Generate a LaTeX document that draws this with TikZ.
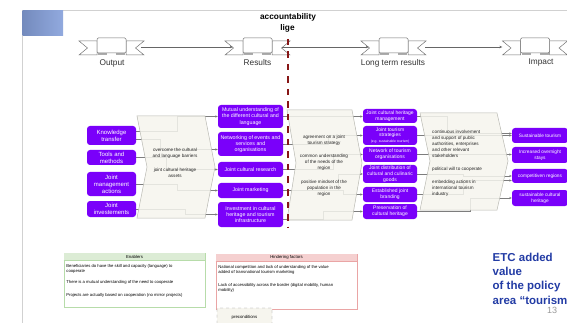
\documentclass[tikz,border=0pt]{standalone}
\usepackage{fontspec}
\setmainfont{Liberation Sans}
\usetikzlibrary{arrows.meta}
\pgfdeclarelayer{wires}
\pgfdeclarelayer{panels}
\pgfsetlayers{wires,panels,main}

\definecolor{vio}{RGB}{122,0,250}
\definecolor{panelfill}{RGB}{246,245,238}
\definecolor{panelline}{RGB}{185,185,178}
\definecolor{conn}{RGB}{125,125,125}
\definecolor{accred}{RGB}{135,22,22}
\definecolor{etcblue}{RGB}{35,60,165}
\definecolor{engreen}{RGB}{183,220,170}
\definecolor{enghead}{RGB}{220,236,213}
\definecolor{hinred}{RGB}{234,165,165}
\definecolor{hinhead}{RGB}{245,208,208}
\definecolor{slideblue}{RGB}{118,148,214}

\tikzset{
  box/.style={fill=vio, text=white, rounded corners=3pt, inner sep=0.5pt,
    align=center, font=\fontsize{5.3}{6.2}\selectfont},
  inbox/.style={box, minimum width=49pt, font=\fontsize{6}{7}\selectfont},
  resbox/.style={box, minimum width=65pt},
  ltbox/.style={box, minimum width=54pt, font=\fontsize{5}{5.9}\selectfont},
  impbox/.style={box, minimum width=56pt, font=\fontsize{4.8}{5.9}\selectfont},
  panel/.style={fill=panelfill, fill opacity=0.86, draw=panelline, line width=0.5pt},
  paneltxt/.style={font=\fontsize{4.6}{5.9}\selectfont, text=black!85,
    align=center, inner sep=0},
  link/.style={draw=conn, line width=0.45pt, -{Stealth[length=2.6pt,width=2.2pt]}},
  hdrlink/.style={draw=black!60, line width=0.5pt, -{Stealth[length=3pt,width=2.6pt]}},
  ribline/.style={draw=black!55, fill=white, line width=0.5pt},
  ribtab/.style={fill=black!32},
  ribbonspot/.style={minimum width=65pt, minimum height=14pt, inner sep=0},
  ribbonlabel/.style={font=\fontsize{8.3}{9}\selectfont, text=black!80, inner sep=0},
  ribbon/.pic={
    \filldraw[ribline] (-32.5,-6) -- (-14.5,-6) -- (-14.5,8) -- (-32.5,8) -- (-24,1) -- cycle;
    \filldraw[ribline] (32.5,-6) -- (14.5,-6) -- (14.5,8) -- (32.5,8) -- (24,1) -- cycle;
    \fill[ribtab] (-13.5,4) rectangle (-4.5,8);
    \fill[ribtab] (4.5,4) rectangle (13.5,8);
    \filldraw[ribline, rounded corners=1.2pt] (-14.5,-9) rectangle (14.5,6);
  },
  sidebox/.style={fill=white, inner sep=0, line width=0.6pt},
  hdtxt/.style={font=\fontsize{4.3}{5}\selectfont, inner sep=0},
  bodytxt/.style={font=\fontsize{4.2}{5.2}\selectfont, align=left, inner sep=0, anchor=north west},
  acc/.style={draw=accred, line width=2.2pt, dash pattern=on 6.5pt off 6pt},
}

\begin{document}
\begin{tikzpicture}[x=1pt,y=-1pt]
\useasboundingbox (0,0) rectangle (567,323);
\begin{pgfonlayer}{wires}
  \fill[white] (0,0) rectangle (567,323);
\end{pgfonlayer}

% slide frame and corner block
\draw[black!18, line width=0.7pt] (22,10) -- (567,10);
\draw[black!18, line width=0.7pt] (22,10) -- (22,323);
\fill[left color=slideblue!85!black!90, right color=slideblue!80!white] (22.5,10.5) rectangle (63,36);

% header ribbons
\node[ribbonspot] (outb) at (111.5,47) {};
\node[ribbonspot] (resb) at (257.5,47) {};
\node[ribbonspot] (ltb)  at (393.5,47) {};
\node[ribbonspot] (impb) at (535,47) {};
\pic at (outb) {ribbon};
\pic at (resb) {ribbon};
\pic at (ltb) {ribbon};
\pic at (impb) {ribbon};
\node[ribbonlabel] (outl) at (112,63) {Output};
\node[ribbonlabel] (resl) at (257.5,63) {Results};
\node[ribbonlabel] (ltl)  at (393,63) {Long term results};
\node[ribbonlabel] (impl) at (541,63) {Impact};

\draw[hdrlink] ([xshift=-3pt]outb.east) -- ([xshift=8pt]resb.west);
\draw[hdrlink] ([xshift=-8pt]resb.east) -- ([xshift=8pt]ltb.west);
\draw[hdrlink] ([xshift=-1pt]ltb.east) -- (impb.west);

% accountability line caption
\node[font=\bfseries\fontsize{8.3}{9}\selectfont, inner sep=0] (acct1) at (288,17) {accountability};
\node[font=\bfseries\fontsize{8.3}{9}\selectfont, inner sep=0] (acct2) at (287.5,28) {lige};

% inputs
\node[inbox, minimum height=19pt] (kt)  at (111.5,135.5) {Knowledge\\transfer};
\node[inbox, minimum height=15pt] (tm)  at (111.5,157.5) {Tools and\\methods};
\node[inbox, minimum height=24pt] (jma) at (111.5,184) {Joint\\management\\actions};
\node[inbox, minimum height=16pt] (ji)  at (111.5,209) {Joint\\investements};

% results
\node[resbox, minimum height=23pt] (mu)  at (250.5,116.5) {Mutual understanding of\\the different cultural and\\language};
\node[resbox, minimum height=24pt] (ne)  at (250.5,144) {Networking of events and\\services and\\organisations};
\node[resbox, minimum height=15pt] (jcr) at (250.5,169.5) {Joint cultural research};
\node[resbox, minimum height=15pt] (jm)  at (250.5,190.5) {Joint marketing};
\node[resbox, minimum height=25pt] (inv) at (250.5,214.5) {Investment in cultural\\heritage and tourism\\infrastructure};

% long term results
\node[ltbox, minimum height=14pt] (jchm)  at (390,116) {Joint cultural heritage\\management};
\node[ltbox, minimum height=19pt] (jts)   at (390,135.5) {Joint tourism\\strategies\\{\fontsize{3.4}{4}\selectfont (e.g. sustainable tourism)}};
\node[ltbox, minimum height=15pt] (net)   at (390,154.5) {Network of tourism\\organisations};
\node[ltbox, minimum height=18pt] (jdist) at (390,174) {Joint distribution of\\cultural and culinaric\\goods};
\node[ltbox, minimum height=15pt] (ebr)   at (390,194.5) {Established joint\\branding};
\node[ltbox, minimum height=15pt] (pres)  at (390,211.5) {Preservation of\\cultural heritage};

% impact
\node[impbox, minimum height=15pt] (st)  at (540,135.5) {Sustainable tourism};
\node[impbox, minimum height=16pt] (ios) at (540,155) {Increased overnight\\stays};
\node[impbox, minimum height=14pt] (cr)  at (540,176) {competitiven regions};
\node[impbox, minimum height=16pt] (sch) at (540,198) {sustainable cultural\\heritage};

% connectors
\begin{pgfonlayer}{wires}
  \draw[link] ([yshift=4.5pt]kt.east) -- ++(41,0) |- (mu.west);
  \draw[link] ([yshift=-3.5pt]kt.east) -- ++(24,0) |- ([yshift=-5.5pt]ne.west);
  \draw[link] (tm.east) -- ++(30,0) |- (jcr.west);
  \draw[link] (jma.east) -- ++(41,0) |- (jm.west);
  \draw[link] (ji.east) -- ++(49,0) |- (inv.west);

  \draw[link] (mu.east) -- (mu.east -| jchm.west);
  \draw[link] (ne.east) -- ++(45,0) |- (jts.west);
  \draw[link] (jcr.east) -- ++(50,0) |- (net.west);
  \draw[link] (jm.east) -- ++(55,0) |- (jdist.west);
  \draw[link] (jm.east) -- ++(60,0) |- (ebr.west);
  \draw[link] ([yshift=-4.5pt]inv.east) -- ++(40,0) |- (pres.west);

  \draw[link] (jchm.east) -- ++(30,0) |- ([yshift=2pt]st.west);
  \draw[link] (jts.east) -- (jts.east -| st.west);
  \draw[link] (net.east) -- (net.east -| ios.west);
  \draw[link] (jdist.east) -- ++(46,0) |- (cr.west);
  \draw[link] (ebr.east) -- ++(46,0) |- ([yshift=-4.5pt]cr.west);
  \draw[link] (pres.east) -- ++(53,0) |- (sch.west);
\end{pgfonlayer}

% chevron panels
\begin{pgfonlayer}{panels}
  \draw[panel] (137,116) -- (205,116) -- (215,167) -- (205,218) -- (137,218) -- (147,167) -- cycle;
  \draw[panel] (287,110) -- (352,110) -- (362,163) -- (352,220) -- (287,220) -- (296,163) -- cycle;
  \draw[panel] (420,113) -- (497,113) -- (508,161) -- (497,210) -- (420,210) -- (430,161) -- cycle;
\end{pgfonlayer}

\node[paneltxt] (p1a) at (175,153.5) {overcome the cultural\\and language barriers};
\node[paneltxt] (p1b) at (175,173) {joint cultural heritage\\assets};
\node[paneltxt] (p2a) at (324,140.5) {agreement on a joint\\tourism strategy};
\node[paneltxt] (p2b) at (324,162.5) {common understanding\\of the needs of the\\region};
\node[paneltxt] (p2c) at (324,188.5) {positive mindset of the\\population in the\\region};
\node[paneltxt, align=left, anchor=west] (p3a) at (432,144) {continuous involvement\\and support of public\\authorities, enterprises\\and other relevant\\stakeholders};
\node[paneltxt, align=left, anchor=west] (p3b) at (432,169) {political will to cooperate};
\node[paneltxt, align=left, anchor=west] (p3c) at (432,188.5) {embedding actions in\\international tourism\\industry};

% accountability line
\coordinate (acctop) at (288,39);
\coordinate (accbot) at (288,227);
\draw[acc] (acctop) -- (accbot);

% enablers
\node[sidebox, draw=engreen, minimum width=141pt, minimum height=54pt] (enab) at (134.5,280) {};
\fill[enghead] ([shift={(0.3pt,-0.3pt)}]enab.north west) rectangle ([shift={(-0.3pt,-8pt)}]enab.north east);
\draw[engreen, line width=0.5pt] ([yshift=-8pt]enab.north west) -- ([yshift=-8pt]enab.north east);
\node[hdtxt] (enabh) at ([yshift=-4pt]enab.north) {Enablers};
\node[bodytxt] (en1) at ([shift={(2.5pt,-11.5pt)}]enab.north west) {Beneficiaries do have the skill and capacity (language) to\\cooperate};
\node[bodytxt] (en2) at ([shift={(2.5pt,-28pt)}]enab.north west) {There is a mutual understanding of the need to cooperate};
\node[bodytxt] (en3) at ([shift={(2.5pt,-41pt)}]enab.north west) {Projects are actually based on cooperation (no mirror projects)};

% hindering factors
\node[sidebox, draw=hinred, minimum width=141pt, minimum height=55pt] (hind) at (286.5,281.5) {};
\fill[hinhead] ([shift={(0.3pt,-0.3pt)}]hind.north west) rectangle ([shift={(-0.3pt,-8pt)}]hind.north east);
\draw[hinred, line width=0.5pt] ([yshift=-8pt]hind.north west) -- ([yshift=-8pt]hind.north east);
\node[hdtxt] (hindh) at ([yshift=-4pt]hind.north) {Hindering factors};
\node[bodytxt] (hi1) at ([shift={(2.5pt,-11.5pt)}]hind.north west) {National competition and lack of understanding of the value\\added of transnational tourism marketing};
\node[bodytxt] (hi2) at ([shift={(2.5pt,-29.5pt)}]hind.north west) {Lack of accessibility across the border (digital mobility, human\\mobility)};

% preconditions
\node[draw=black!45, dashed, fill=panelfill, rounded corners=1pt, minimum width=55pt, minimum height=18pt,
  inner sep=0, font=\fontsize{4.3}{5}\selectfont] (prec) at (244.5,317) {preconditions};

% slide caption and page number
\node[anchor=north west, align=left, inner sep=0, text=etcblue,
  font=\bfseries\fontsize{11.5}{14.4}\selectfont] (etc) at (492.5,252.5) {ETC added\\value\\of the policy\\area “tourism};
\node[text=black!40, font=\fontsize{9}{10}\selectfont, inner sep=0] (pg) at (552,310.5) {13};
\end{tikzpicture}
\end{document}
